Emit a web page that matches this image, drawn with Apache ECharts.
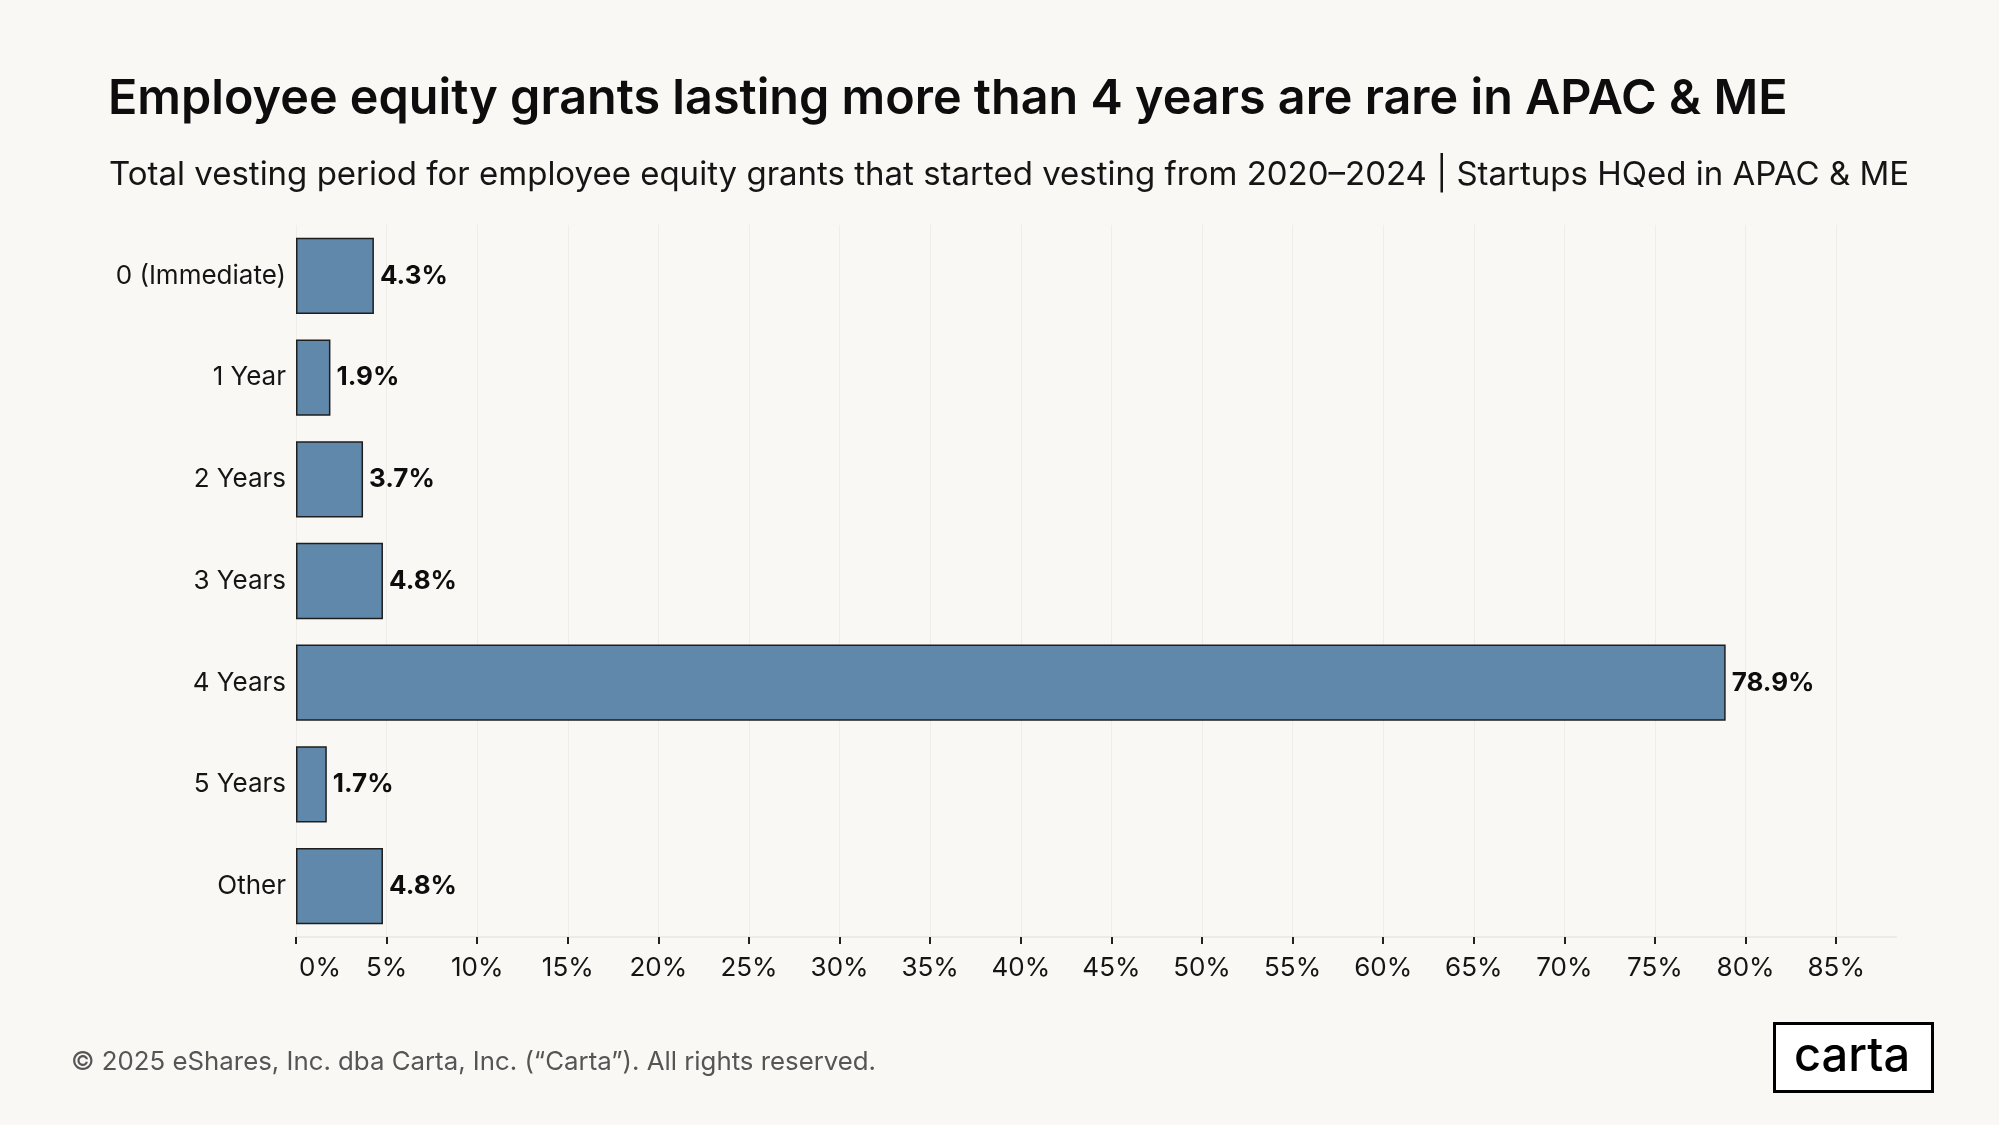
<!DOCTYPE html>
<html>
<head>
<meta charset="utf-8">
<script src="https://cdn.jsdelivr.net/npm/echarts@6/dist/echarts.min.js"></script>
<style>
html,body{margin:0;padding:0;background:#faf8f4;}
#chart{width:1999px;height:1125px;}
</style>
</head>
<body>
<div id="chart"></div>
<script>
const categories = ['0 (Immediate)', '1 Year', '2 Years', '3 Years', '4 Years', '5 Years', 'Other'];
const values = [4.3, 1.9, 3.7, 4.8, 78.9, 1.7, 4.8];
const tickValues = [0, 5, 10, 15, 20, 25, 30, 35, 40, 45, 50, 55, 60, 65, 70, 75, 80, 85];
const titleText = 'Employee equity grants lasting more than 4 years are rare in APAC & ME';
const subtitleText = 'Total vesting period for employee equity grants that started vesting from 2020\u20132024 | Startups HQed in APAC & ME';
const footerText = '\u00A9 2025 eShares, Inc. dba Carta, Inc. (\u201CCarta\u201D). All rights reserved.';

const FONT = 'Inter, "Noto Sans", sans-serif';
const chart = echarts.init(document.getElementById('chart'));
chart.setOption({
  backgroundColor: '#faf8f4',
  textStyle: { fontFamily: FONT },
  title: [
    { text: titleText, left: 103, top: 70,
      textStyle: { fontFamily: FONT, fontSize: 48.5, fontWeight: 600, color: '#0d0d0d' } },
    { text: subtitleText, left: 104, top: 154,
      textStyle: { fontFamily: FONT, fontSize: 33, fontWeight: 400, color: '#151515' } },
    { text: footerText, left: 66, top: 1044,
      textStyle: { fontFamily: FONT, fontSize: 25.8, fontWeight: 400, color: '#555' } }
  ],
  grid: { left: 296, right: 103, top: 225, bottom: 188, containLabel: false },
  xAxis: {
    type: 'value', min: 0, max: 88.3,
    axisLine: { show: true, lineStyle: { color: '#ecebe7', width: 2 } },
    axisTick: { show: true, customValues: tickValues, length: 7, lineStyle: { color: '#222', width: 2 } },
    axisLabel: {
      customValues: tickValues, margin: 18, fontSize: 26, color: '#151515', fontFamily: FONT,
      formatter: function (v) { return v === 0 ? '{first|0%}' : v + '%'; },
      rich: { first: { fontSize: 26, color: '#151515', fontFamily: FONT, padding: [0, 0, 0, 48] } }
    },
    splitLine: { show: true, lineStyle: { color: '#efede8', width: 1 } }
  },
  yAxis: {
    type: 'category', data: categories, inverse: true,
    axisLine: { show: false }, axisTick: { show: false },
    axisLabel: { fontSize: 26, color: '#151515', margin: 10, fontFamily: FONT }
  },
  series: [{
    type: 'bar', data: values, barWidth: '75%',
    itemStyle: { color: '#6088ab', borderColor: '#1e1e1e', borderWidth: 1.5 },
    label: { show: true, position: 'right', distance: 6, fontSize: 26, fontWeight: 700,
      color: '#0d0d0d', fontFamily: FONT, formatter: function (p) { return p.value.toFixed(1) + '%'; } }
  }],
  graphic: [
    { type: 'rect', left: 1773, top: 1022, shape: { width: 158, height: 68 },
      style: { fill: '#ffffff', stroke: '#000', lineWidth: 3 } },
    { type: 'text', x: 1852, y: 1057,
      style: { text: 'carta', font: '500 47px ' + FONT, fill: '#000', align: 'center', verticalAlign: 'middle' } }
  ]
});
</script>
</body>
</html>
